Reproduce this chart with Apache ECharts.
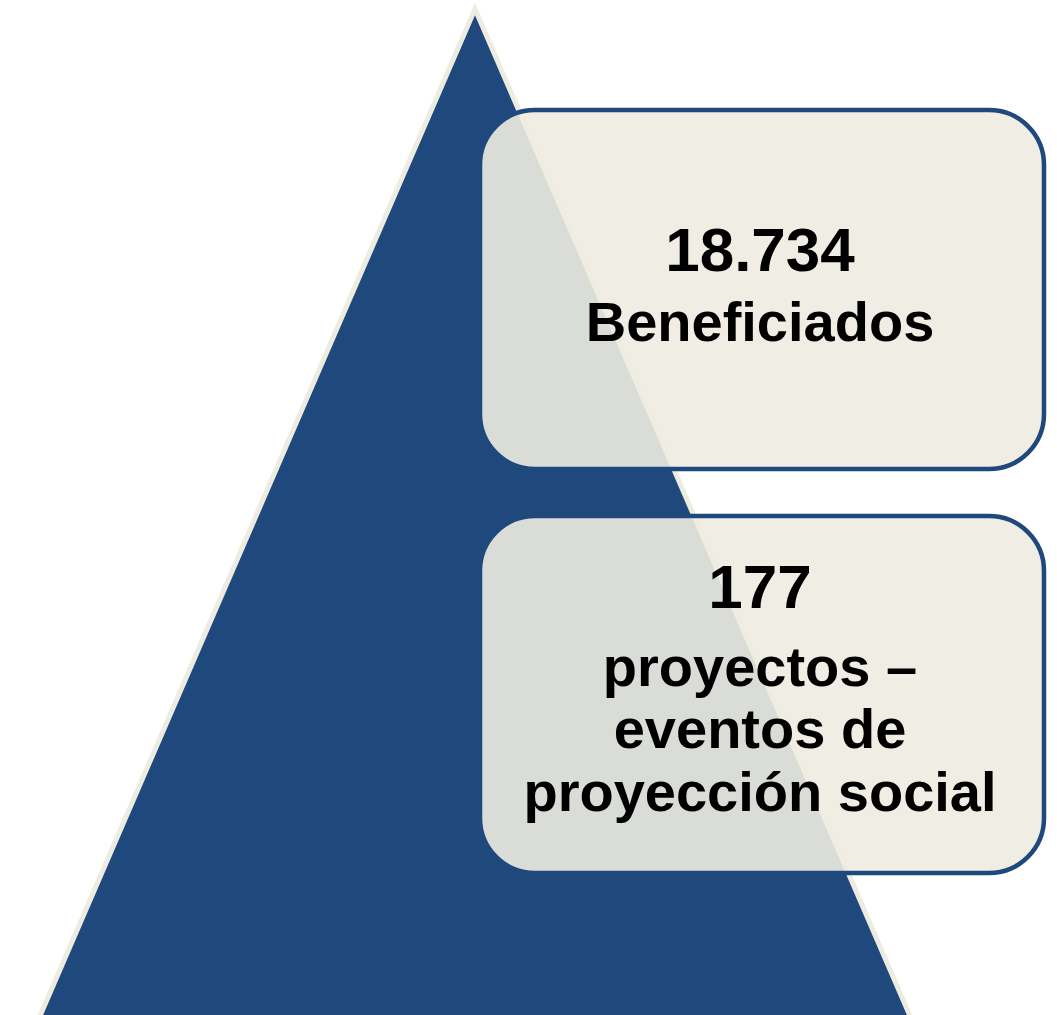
<!DOCTYPE html>
<html>
<head>
<meta charset="utf-8">
<script src="https://cdn.jsdelivr.net/npm/echarts@6/dist/echarts.min.js"></script>
<style>
html,body{margin:0;padding:0;background:#fff;}
#chart{width:1057px;height:1015px;}
</style>
</head>
<body>
<div id="chart"></div>
<script>
// Data
var values = ["18.734", "177"];
var labels = [["Beneficiados"], ["proyectos –", "eventos de", "proyección social"]];

// Layout (positions/styles)
var boxes = [
  {x: 480, y: 110, w: 564, h: 359, numY: 254, lineY: [326]},
  {x: 480, y: 516, w: 564, h: 357, numY: 591, lineY: [671, 733, 796]}
];
var textX = 760;
var FONT = '"Liberation Sans", Arial, sans-serif';

var elements = [];
elements.push({
  type: 'polygon',
  shape: {points: [[475, 9], [29.6, 1040], [920.4, 1040]]},
  style: {fill: '#1F497D', stroke: '#EEECE1', lineWidth: 5, lineJoin: 'miter'},
  z: 1
});
boxes.forEach(function (b, i) {
  elements.push({
    type: 'rect',
    shape: {x: b.x, y: b.y, width: b.w, height: b.h, r: 55},
    style: {fill: 'rgba(238,236,225,0.9)', stroke: '#1F497D', lineWidth: 4.5},
    z: 2
  });
  elements.push({
    type: 'text',
    x: textX, y: b.numY,
    style: {text: values[i], font: 'bold 62px ' + FONT, fill: '#000', align: 'center', verticalAlign: 'middle'},
    z: 3
  });
  labels[i].forEach(function (t, j) {
    elements.push({
      type: 'text',
      x: textX, y: b.lineY[j],
      style: {text: t, font: 'bold 56px ' + FONT, fill: '#000', align: 'center', verticalAlign: 'middle'},
      z: 3
    });
  });
});

var chart = echarts.init(document.getElementById('chart'), null, {renderer: 'canvas'});
chart.setOption({
  backgroundColor: '#ffffff',
  animation: false,
  graphic: {elements: elements}
});
</script>
</body>
</html>
